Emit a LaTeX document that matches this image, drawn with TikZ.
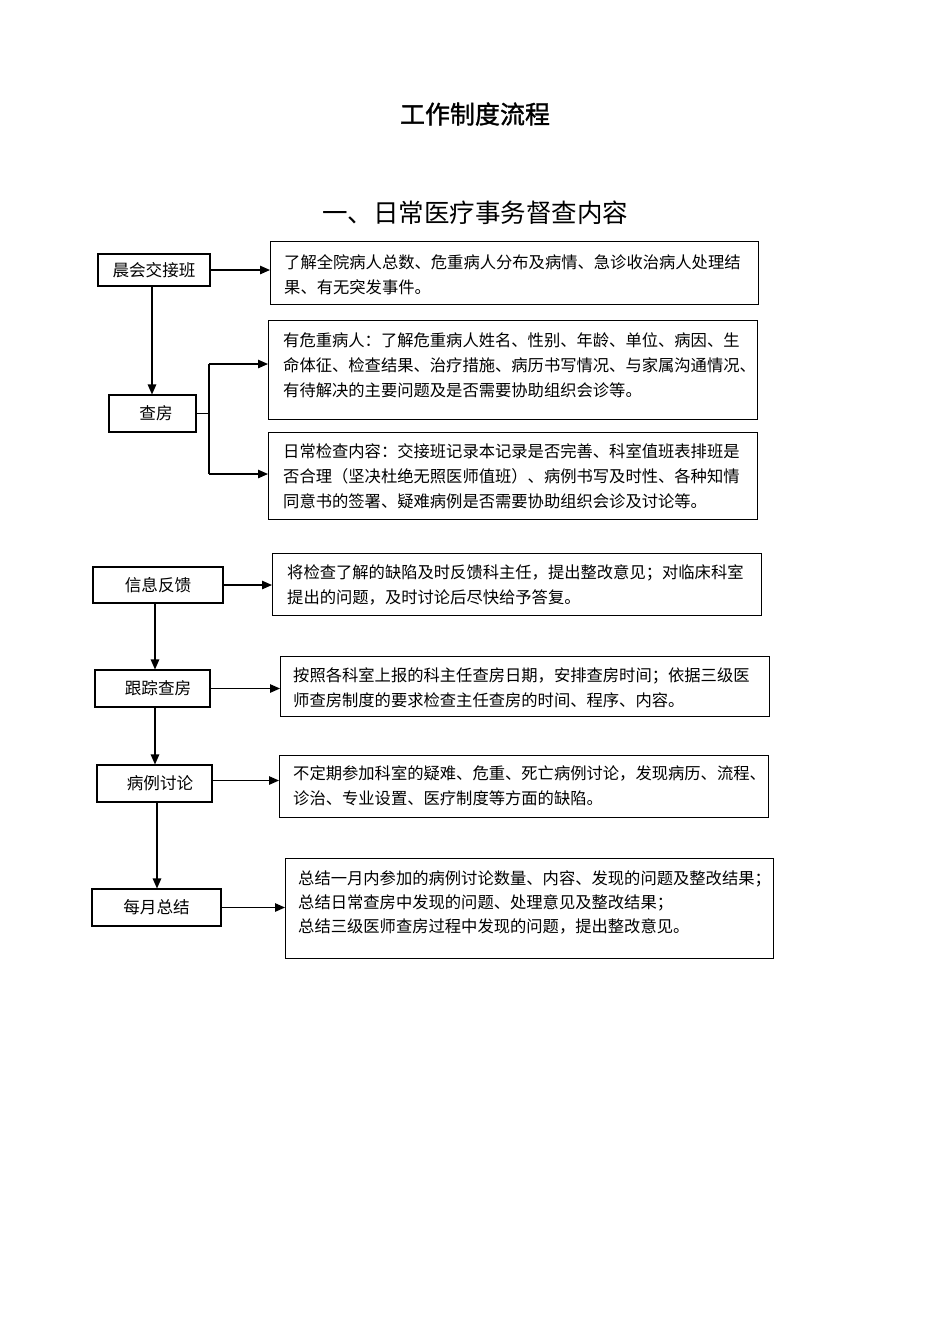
\documentclass[tikz,border=0pt]{standalone}
\usepackage{fontspec}
\setmainfont{Noto Sans CJK SC}
\newfontfamily\ttlfont[FakeBold=1.3]{Noto Sans CJK SC}
\usetikzlibrary{arrows.meta}
\tikzset{
  lbox/.style={draw, line width=1.1pt, inner sep=0pt, font=\fontsize{16.6}{20}\selectfont},
  rbox/.style={draw, line width=1.2pt, inner sep=0pt, anchor=north west},
  rtext/.style={anchor=base west, inner sep=0pt, align=left, text width=490pt, font=\fontsize{16.3}{25}\selectfont},
  arr/.style={line width=1.2pt, -{Triangle[length=10pt,width=8.5pt]}},
  conn/.style={line width=1.2pt},
}
\begin{document}
\begin{tikzpicture}[x=1pt,y=-1pt]
\useasboundingbox (0,0) rectangle (950,1344);
% titles
\node[font=\fontsize{25}{30}\selectfont\ttlfont] (title) at (475,114) {工作制度流程};
\node[font=\fontsize{25.5}{30}\selectfont] (sub) at (475,213) {一、日常医疗事务督查内容};

% section 1
\node[lbox, minimum width=112, minimum height=32] (n1) at (154,270) {晨会交接班};
\node[lbox, minimum width=87, minimum height=37] (n2) at (152.5,413.5) {\hspace{7pt}查房};

\node[rbox, minimum width=488, minimum height=63] (d1) at (270,241) {};
\node[rtext] (t1) at (284,268) {了解全院病人总数、危重病人分布及病情、急诊收治病人处理结\\果、有无突发事件。};
\node[rbox, minimum width=489, minimum height=99] (d2) at (268,320) {};
\node[rtext] (t2) at (283,346) {有危重病人：了解危重病人姓名、性别、年龄、单位、病因、生\\命体征、检查结果、治疗措施、病历书写情况、与家属沟通情况、\\有待解决的主要问题及是否需要协助组织会诊等。};
\node[rbox, minimum width=489, minimum height=87] (d3) at (268,432) {};
\node[rtext] (t3) at (283,457) {日常检查内容：交接班记录本记录是否完善、科室值班表排班是\\否合理（坚决杜绝无照医师值班）、病例书写及时性、各种知情\\同意书的签署、疑难病例是否需要协助组织会诊及讨论等。};

\draw[arr] (n1.east) -- (n1.east -| d1.west);
\draw[arr] ([xshift=-2pt]n1.south) -- ([xshift=-2pt]n1.south |- n2.north);
\coordinate (j1) at (209,364);
\coordinate (j2) at (209,474);
\draw[conn] (n2.east) -- (n2.east -| j1);
\draw[conn] (j1) -- (j2);
\draw[arr] (j1) -- (j1 -| d2.west);
\draw[arr] (j2) -- (j2 -| d3.west);

% section 2
\node[lbox, minimum width=130, minimum height=36] (n3) at (158,585) {信息反馈\hspace{22pt}};
\node[lbox, minimum width=115, minimum height=37] (n4) at (152.5,688.5) {\hspace{11pt}跟踪查房};
\node[lbox, minimum width=115, minimum height=37] (n5) at (154.5,783.5) {\hspace{11pt}病例讨论};
\node[lbox, minimum width=129, minimum height=37] (n6) at (156.5,907.5) {每月总结};

\node[rbox, minimum width=489, minimum height=62] (d4) at (272,553) {};
\node[rtext] (t4) at (287,578) {将检查了解的缺陷及时反馈科主任，提出整改意见；对临床科室\\提出的问题，及时讨论后尽快给予答复。};
\node[rbox, minimum width=489, minimum height=60] (d5) at (280,656) {};
\node[rtext] (t5) at (293,681) {按照各科室上报的科主任查房日期，安排查房时间；依据三级医\\师查房制度的要求检查主任查房的时间、程序、内容。};
\node[rbox, minimum width=489, minimum height=62] (d6) at (279,755) {};
\node[rtext] (t6) at (293,779) {不定期参加科室的疑难、危重、死亡病例讨论，发现病历、流程、\\诊治、专业设置、医疗制度等方面的缺陷。};
\node[rbox, minimum width=488, minimum height=100] (d7) at (285,858) {};
\node[rtext, font=\fontsize{16.3}{24}\selectfont] (t7) at (298,884) {总结一月内参加的病例讨论数量、内容、发现的问题及整改结果；\\总结日常查房中发现的问题、处理意见及整改结果；\\总结三级医师查房过程中发现的问题，提出整改意见。};

\draw[arr] (n3.east) -- (n3.east -| d4.west);
\draw[arr] (n4.east) -- (n4.east -| d5.west);
\draw[arr] ([yshift=3pt]n5.east) -- ([yshift=3pt]n5.east -| d6.west);
\draw[arr] (n6.east) -- (n6.east -| d7.west);
\draw[arr] ([xshift=-3pt]n3.south) -- ([xshift=-3pt]n3.south |- n4.north);
\draw[arr] ([xshift=2.5pt]n4.south) -- ([xshift=2.5pt]n4.south |- n5.north);
\draw[arr] ([xshift=2.5pt]n5.south) -- ([xshift=2.5pt]n5.south |- n6.north);
\end{tikzpicture}
\end{document}
